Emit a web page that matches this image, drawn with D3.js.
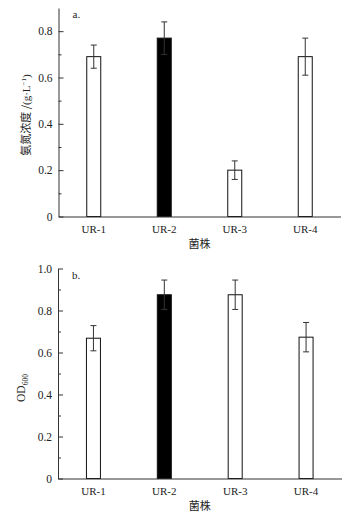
<!DOCTYPE html>
<html>
<head>
<meta charset="utf-8">
<script src="https://cdn.jsdelivr.net/npm/d3@7"></script>
<style>
  body { margin: 0; background: #fff; }
  text { font-family: "Liberation Serif", "Noto Sans CJK SC", serif; fill: #222; }
  .cjk { font-family: "Noto Sans CJK SC", sans-serif; }
</style>
</head>
<body>
<div id="viz"></div>
<script>
// strains on the x axis
var strains = ['UR-1', 'UR-2', 'UR-3', 'UR-4'];

// panel a: ammonia nitrogen (g/L)
var ammonia = [0.69, 0.77, 0.20, 0.69];
var ammoniaErr = [0.05, 0.07, 0.04, 0.08];

// panel b: OD600
var od = [0.668, 0.875, 0.875, 0.673];
var odErr = [0.06, 0.07, 0.07, 0.07];

var fills = ['#fff', '#000', '#fff', '#fff'];

var svg = d3.select('#viz').append('svg')
  .attr('width', 356)
  .attr('height', 521);

function panel(opts) {
  var x = d3.scaleBand().domain(strains).range([opts.left, opts.right]);
  var y = d3.scaleLinear().domain([0, opts.max]).range([opts.bottom, opts.top]);
  var g = svg.append('g');

  // bars
  g.selectAll('rect')
    .data(opts.values)
    .enter()
    .append('rect')
    .attr('x', (d, i) => x(strains[i]) + x.bandwidth() / 2 - 7)
    .attr('width', 14)
    .attr('y', (d) => y(d))
    .attr('height', (d) => y(0) - y(d))
    .attr('fill', (d, i) => fills[i])
    .attr('stroke', '#111')
    .attr('stroke-width', 1);

  // error bars
  var eb = g.selectAll('.err')
    .data(opts.values)
    .enter()
    .append('g')
    .attr('class', 'err')
    .attr('stroke', '#333')
    .attr('stroke-width', 1);
  eb.append('line')
    .attr('x1', (d, i) => x(strains[i]) + x.bandwidth() / 2)
    .attr('x2', (d, i) => x(strains[i]) + x.bandwidth() / 2)
    .attr('y1', (d, i) => y(d + opts.err[i]))
    .attr('y2', (d, i) => y(d - opts.err[i]));
  eb.append('line')
    .attr('x1', (d, i) => x(strains[i]) + x.bandwidth() / 2 - 3)
    .attr('x2', (d, i) => x(strains[i]) + x.bandwidth() / 2 + 3)
    .attr('y1', (d, i) => y(d + opts.err[i]))
    .attr('y2', (d, i) => y(d + opts.err[i]));
  eb.append('line')
    .attr('x1', (d, i) => x(strains[i]) + x.bandwidth() / 2 - 3)
    .attr('x2', (d, i) => x(strains[i]) + x.bandwidth() / 2 + 3)
    .attr('y1', (d, i) => y(d - opts.err[i]))
    .attr('y2', (d, i) => y(d - opts.err[i]));

  // minor ticks
  g.append('g')
    .attr('transform', 'translate(' + opts.left + ',0)')
    .call(d3.axisRight(y).tickValues(d3.range(0.1, opts.max, 0.2)).tickSize(3).tickFormat(''))
    .call((a) => a.select('.domain').remove())
    .selectAll('line').attr('stroke', '#333');

  // y axis, ticks pointing in
  var ya = g.append('g')
    .attr('transform', 'translate(' + opts.left + ',0)')
    .call(d3.axisRight(y).tickValues(opts.ticks).tickSize(5).tickSizeOuter(0)
      .tickFormat((d) => d === 0 ? '0' : d3.format('.1f')(d)));
  ya.select('.domain').attr('stroke', '#333');
  ya.selectAll('line').attr('stroke', '#333');
  ya.selectAll('text')
    .attr('x', -6)
    .attr('text-anchor', 'end')
    .style('font-size', '11.5px');

  // x axis
  var xa = g.append('g')
    .attr('transform', 'translate(0,' + opts.bottom + ')')
    .call(d3.axisBottom(x).tickSize(0).tickPadding(9));
  xa.select('.domain').attr('stroke', '#333');
  xa.selectAll('text').style('font-size', '11px');

  g.append('text')
    .attr('class', 'cjk')
    .attr('x', (opts.left + opts.right) / 2)
    .attr('y', opts.bottom + 31)
    .attr('text-anchor', 'middle')
    .style('font-size', '11px')
    .text('菌株');

  g.append('text')
    .attr('x', opts.left + 14)
    .attr('y', opts.top + 10)
    .style('font-size', '11px')
    .text(opts.tag);

  return g;
}

var ga = panel({ left: 58.5, right: 340.5, top: 8, bottom: 216.5, max: 0.9,
  ticks: [0, 0.2, 0.4, 0.6, 0.8], values: ammonia, err: ammoniaErr, tag: 'a.' });

var gb = panel({ left: 58, right: 341.5, top: 268.5, bottom: 478.5, max: 1.0,
  ticks: [0, 0.2, 0.4, 0.6, 0.8, 1.0], values: od, err: odErr, tag: 'b.' });

// y titles
var ta = ga.append('text')
  .attr('transform', 'translate(30,115) rotate(-90)')
  .attr('text-anchor', 'middle')
  .style('font-size', '11px');
ta.append('tspan').attr('class', 'cjk').text('氨氮浓度 /');
ta.append('tspan').text('(g·L');
ta.append('tspan').attr('dy', -4).style('font-size', '7px').text('−1');
ta.append('tspan').attr('dy', 4).text(')');

var tb = gb.append('text')
  .attr('transform', 'translate(25,388) rotate(-90)')
  .attr('text-anchor', 'middle')
  .style('font-size', '11.5px');
tb.append('tspan').text('OD');
tb.append('tspan').attr('dy', 3).style('font-size', '7.5px').text('600');
</script>
</body>
</html>
